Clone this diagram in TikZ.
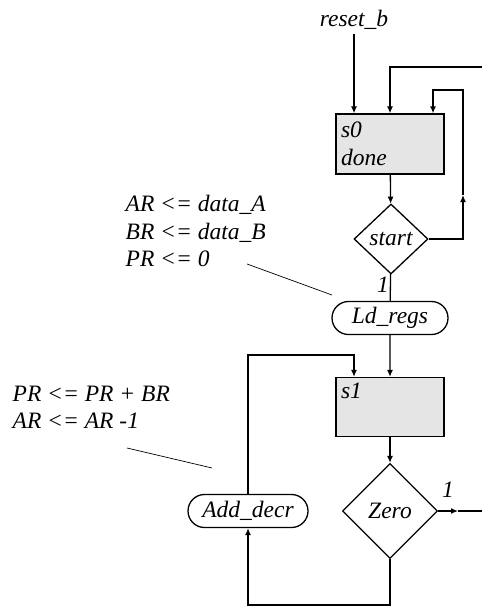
\documentclass[tikz,border=0pt]{standalone}
\usepackage{fontspec}
\setmainfont{Liberation Serif}
\newfontfamily\dgmfont{Liberation Serif}
\usetikzlibrary{arrows.meta,shapes.geometric,shapes.misc}

\begin{document}
\begin{tikzpicture}[
  x=1pt, y=-1pt, >={Latex[length=7pt,width=6pt]},
  font=\dgmfont\fontsize{23.5}{27.5}\selectfont\itshape, line width=1.3pt,
  state/.style={draw,fill=gray!20,minimum width=108,minimum height=60,inner sep=5,align=left,text width=98},
  cond/.style={draw,diamond,aspect=1,inner sep=0},
  oper/.style={draw,rounded rectangle,minimum width=120,minimum height=33,inner sep=2},
  note/.style={align=left,anchor=north west,inner sep=0},
  lead/.style={line width=0.7pt},
]
\useasboundingbox (0,0) rectangle (482,607);

% ---- state s0 ----
\node (reset) at (354,20) {reset\_b};
\node[state] (s0) at (390,144) {s0\\done};
\node[cond,minimum width=74,minimum height=70] (start) at (391,239) {start};
\node (one0) at (383,285) {1};
\coordinate (r0) at (482,67);
\coordinate (up0) at (463,195);
\coordinate (in0) at (433,90);
\draw[->] (reset) -- (reset |- s0.north);
\draw[->] (r0) -| (s0.north);
\draw[->] (s0) -- (start);
\draw[->] (start.east) -| (up0);
\draw[->] (up0) |- (in0) -- (in0 |- s0.north);

% ---- load registers ----
\node[oper] (ld) at (390,318) {Ld\_regs};
\draw (start) -- (ld);
\node[note] (n1) at (125,195) {AR <= data\_A\\BR <= data\_B\\PR <= 0};
\coordinate (p1) at (247,264);
\coordinate (p2) at (332,295);
\draw[lead] (p1) -- (p2);

% ---- state s1 ----
\node[state,minimum height=59,label={[anchor=north west,inner sep=5]north west:s1}] (s1) at (390,407) {};
\node[cond,minimum width=95,minimum height=95] (zero) at (390,511) {Zero};
\node[oper,minimum width=124] (add) at (248,511) {Add\_decr};
\node (one1) at (448,490) {1};
\draw[->] (ld) -- (s1);
\draw[->] (s1) -- (zero);
\coordinate (xo) at (458,511);
\coordinate (r1) at (482,511);
\draw[->] (zero.east) -- (xo);
\draw (xo) -- (r1);
\coordinate (bot) at (248,605);
\draw[->] (zero.south) |- (bot) -- (add.south);
\coordinate (top1) at (354,355);
\draw[->] (add.north) |- (top1) -- (top1 |- s1.north);
\node[note] (n2) at (12,385) {PR <= PR + BR\\AR <= AR -1};
\coordinate (p3) at (127,448);
\coordinate (p4) at (212,468);
\draw[lead] (p3) -- (p4);
\end{tikzpicture}
\end{document}
